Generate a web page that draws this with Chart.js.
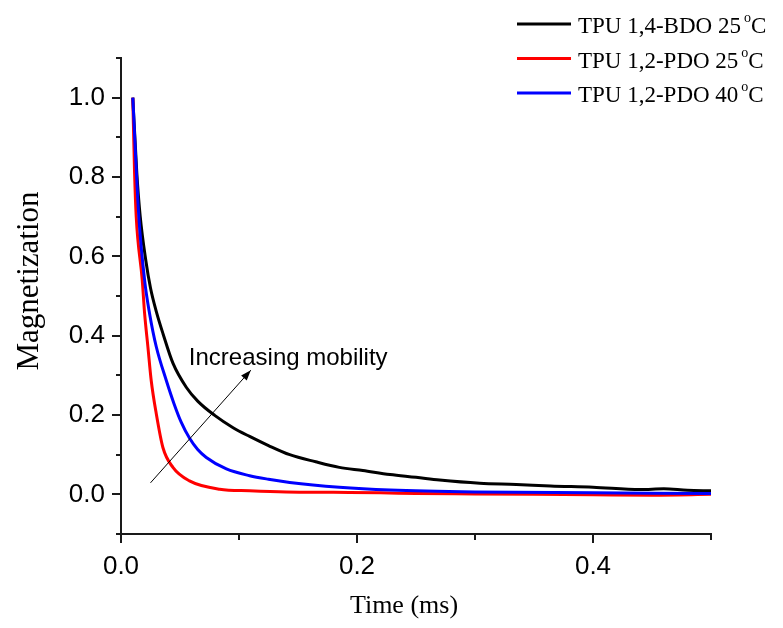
<!DOCTYPE html>
<html>
<head>
<meta charset="utf-8">
<script src="https://cdn.jsdelivr.net/npm/chart.js@4.4.0/dist/chart.umd.min.js"></script>
<style>
  html, body { margin: 0; padding: 0; background: #fff; }
  #wrap { width: 783px; height: 628px; }
</style>
</head>
<body>
<div id="wrap"><canvas id="relax"></canvas></div>
<script>
// T2 relaxation decays, time in ms
const seriesNames = ['TPU 1,4-BDO', 'TPU 1,2-PDO', 'TPU 1,2-PDO'];
const seriesTemps = [25, 25, 40];
const seriesColors = ['#000000', '#ff0000', '#0000ff'];

const bdo25Time = [0.010, 0.0134, 0.0163, 0.021, 0.025, 0.030, 0.0356, 0.0441, 0.0553, 0.065, 0.0794, 0.095, 0.109, 0.125, 0.143, 0.165, 0.185, 0.205, 0.228, 0.250, 0.270, 0.304, 0.335, 0.364, 0.400, 0.440, 0.460, 0.480, 0.500];
const bdo25Mag  = [1.000, 0.810, 0.700, 0.590, 0.520, 0.460, 0.405, 0.330, 0.270, 0.235, 0.199, 0.168, 0.146, 0.123, 0.100, 0.082, 0.068, 0.060, 0.050, 0.043, 0.036, 0.028, 0.025, 0.021, 0.018, 0.012, 0.014, 0.010, 0.009];

const pdo25Time = [0.010, 0.0115, 0.0129, 0.018, 0.020, 0.0228, 0.0256, 0.0299, 0.0355, 0.044, 0.058, 0.0836, 0.109, 0.140, 0.180, 0.220, 0.250, 0.300, 0.350, 0.400, 0.450, 0.500];
const pdo25Mag  = [1.000, 0.810, 0.700, 0.540, 0.456, 0.372, 0.287, 0.203, 0.118, 0.068, 0.034, 0.013, 0.009, 0.006, 0.005, 0.004, 0.002, 0.001, 0.000, -0.001, -0.002, 0.000];

const pdo40Time = [0.010, 0.0151, 0.020, 0.0242, 0.0299, 0.0384, 0.045, 0.051, 0.058, 0.065, 0.0723, 0.0893, 0.109, 0.125, 0.143, 0.185, 0.228, 0.300, 0.400, 0.500];
const pdo40Mag  = [1.000, 0.700, 0.540, 0.456, 0.372, 0.287, 0.228, 0.182, 0.142, 0.113, 0.093, 0.064, 0.047, 0.038, 0.030, 0.018, 0.011, 0.006, 0.004, 0.002];

const xTicks = [0.0, 0.2, 0.4];
const yTicks = [0.0, 0.2, 0.4, 0.6, 0.8, 1.0];

// arrow "Increasing mobility": [time, magnetization]
const arrowFrom = [0.025, 0.029];
const arrowTo = [0.110, 0.313];
const noteText = 'Increasing mobility';
const notePos = [0.0575, 0.343];

function toPoints(ts, ms) {
  return ts.map((t, i) => ({ x: t, y: ms[i] }));
}

const sansFont = "'Liberation Sans', Arial, sans-serif";
const serifFont = "'Liberation Serif', 'Times New Roman', serif";

function isMajor(v, list) {
  return list.some(m => Math.abs(m - v) < 1e-6);
}

// outward ticks, long on labelled values, short on the rest
const tickPlugin = {
  id: 'tickMarks',
  afterDraw(chart) {
    const ctx = chart.ctx;
    const area = chart.chartArea;
    const xs = chart.scales.x, ys = chart.scales.y;
    ctx.save();
    ctx.strokeStyle = '#1a1a1a';
    ctx.lineWidth = 2;
    xs.ticks.forEach((tk, i) => {
      const px = Math.round(xs.getPixelForTick(i));
      const len = isMajor(tk.value, xTicks) ? 9 : 6;
      ctx.beginPath();
      ctx.moveTo(px, area.bottom);
      ctx.lineTo(px, area.bottom + len);
      ctx.stroke();
    });
    ys.ticks.forEach((tk, i) => {
      const py = Math.round(ys.getPixelForTick(i));
      const len = isMajor(tk.value, yTicks) ? 9 : 5;
      ctx.beginPath();
      ctx.moveTo(area.left, py);
      ctx.lineTo(area.left - len, py);
      ctx.stroke();
    });
    ctx.restore();
  }
};

// axis titles, legend and the mobility arrow
const decorPlugin = {
  id: 'decor',
  afterDraw(chart) {
    const ctx = chart.ctx;
    const xs = chart.scales.x, ys = chart.scales.y;
    ctx.save();

    ctx.fillStyle = '#000';
    ctx.font = '26px ' + serifFont;
    ctx.textAlign = 'center';
    ctx.textBaseline = 'middle';
    ctx.fillText('Time (ms)', 404, 606);
    ctx.save();
    ctx.translate(30, 281);
    ctx.rotate(-Math.PI / 2);
    ctx.font = '31px ' + serifFont;
    ctx.fillText('Magnetization', 0, 0);
    ctx.restore();

    // arrow
    const x0 = xs.getPixelForValue(arrowFrom[0]), y0 = ys.getPixelForValue(arrowFrom[1]);
    const x1 = xs.getPixelForValue(arrowTo[0]), y1 = ys.getPixelForValue(arrowTo[1]);
    ctx.strokeStyle = '#000';
    ctx.lineWidth = 1;
    ctx.beginPath();
    ctx.moveTo(x0, y0);
    ctx.lineTo(x1, y1);
    ctx.stroke();
    const ang = Math.atan2(y1 - y0, x1 - x0);
    ctx.beginPath();
    ctx.moveTo(x1, y1);
    ctx.lineTo(x1 - 11 * Math.cos(ang - 0.35), y1 - 11 * Math.sin(ang - 0.35));
    ctx.lineTo(x1 - 11 * Math.cos(ang + 0.35), y1 - 11 * Math.sin(ang + 0.35));
    ctx.closePath();
    ctx.fill();

    ctx.font = '24px ' + sansFont;
    ctx.textAlign = 'left';
    ctx.fillText(noteText, xs.getPixelForValue(notePos[0]), ys.getPixelForValue(notePos[1]));

    // legend
    ctx.textBaseline = 'alphabetic';
    chart.data.datasets.forEach((ds, i) => {
      const cy = 24 + i * 34.5;
      ctx.strokeStyle = ds.borderColor;
      ctx.lineWidth = 3;
      ctx.beginPath();
      ctx.moveTo(517, cy);
      ctx.lineTo(571, cy);
      ctx.stroke();
      ctx.fillStyle = '#000';
      ctx.font = '23px ' + serifFont;
      let tx = 578;
      const base = cy + 9;
      const main = seriesNames[i] + ' ' + seriesTemps[i];
      ctx.fillText(main, tx, base);
      tx += ctx.measureText(main).width + 3;
      ctx.font = '14px ' + serifFont;
      ctx.fillText('o', tx, base - 11);
      tx += ctx.measureText('o').width;
      ctx.font = '23px ' + serifFont;
      ctx.fillText('C', tx, base);
    });
    ctx.restore();
  }
};

const curves = [toPoints(bdo25Time, bdo25Mag), toPoints(pdo25Time, pdo25Mag), toPoints(pdo40Time, pdo40Mag)];

new Chart(document.getElementById('relax'), {
  type: 'line',
  data: {
    datasets: curves.map((pts, i) => ({
      label: seriesNames[i] + ' ' + seriesTemps[i] + ' °C',
      data: pts,
      borderColor: seriesColors[i],
      borderWidth: 3,
      pointRadius: 0,
      fill: false,
      cubicInterpolationMode: 'monotone',
      order: 2 - i
    }))
  },
  options: {
    responsive: true,
    maintainAspectRatio: false,
    animation: false,
    layout: { padding: { top: 58, right: 72, left: 0, bottom: 0 } },
    plugins: { legend: { display: false }, tooltip: { enabled: false } },
    scales: {
      x: {
        type: 'linear',
        min: 0,
        max: 0.5,
        afterFit: s => { s.height = 94; },
        grid: { drawOnChartArea: false, drawTicks: false },
        border: { display: true, color: '#1a1a1a', width: 2 },
        ticks: {
          stepSize: 0.1,
          padding: 17,
          color: '#000',
          font: { family: sansFont, size: 26 },
          callback: v => isMajor(v, xTicks) ? v.toFixed(1) : ''
        }
      },
      y: {
        min: -0.1,
        max: 1.1,
        afterFit: s => { s.width = 121; },
        grid: { drawOnChartArea: false, drawTicks: false },
        border: { display: true, color: '#1a1a1a', width: 2 },
        ticks: {
          stepSize: 0.1,
          padding: 16,
          color: '#000',
          font: { family: sansFont, size: 26 },
          callback: v => isMajor(v, yTicks) ? v.toFixed(1) : ''
        }
      }
    }
  },
  plugins: [tickPlugin, decorPlugin]
});
</script>
</body>
</html>
